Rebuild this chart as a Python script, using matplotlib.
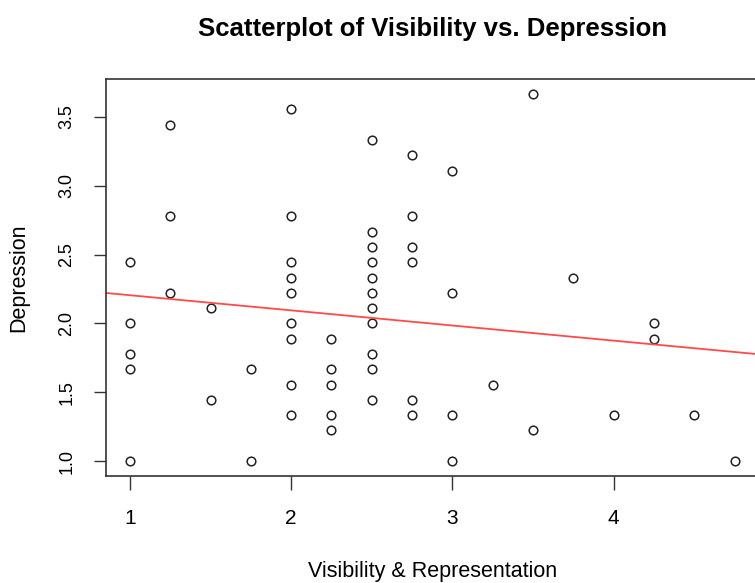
import numpy as np
import matplotlib.pyplot as plt

plt.rcParams['font.family'] = ['Liberation Sans', 'DejaVu Sans']

# visibility score for each respondent, grouped by column
visibility = (
    [1.0] * 5 + [1.25] * 3 + [1.5] * 2 + [1.75] * 2 + [2.0] * 9 + [2.25] * 5
    + [2.5] * 11 + [2.75] * 6 + [3.0] * 4 + [3.25] + [3.5] * 2 + [3.75]
    + [4.0] + [4.25] * 2 + [4.5] + [4.75]
)
depression = [
    22 / 9, 18 / 9, 16 / 9, 15 / 9, 9 / 9,
    31 / 9, 25 / 9, 20 / 9,
    19 / 9, 13 / 9,
    15 / 9, 9 / 9,
    32 / 9, 25 / 9, 22 / 9, 21 / 9, 20 / 9, 18 / 9, 17 / 9, 14 / 9, 12 / 9,
    17 / 9, 15 / 9, 14 / 9, 12 / 9, 11 / 9,
    30 / 9, 24 / 9, 23 / 9, 22 / 9, 21 / 9, 20 / 9, 19 / 9, 18 / 9, 16 / 9, 15 / 9, 13 / 9,
    29 / 9, 25 / 9, 23 / 9, 22 / 9, 13 / 9, 12 / 9,
    28 / 9, 20 / 9, 12 / 9, 9 / 9,
    14 / 9,
    33 / 9, 11 / 9,
    21 / 9,
    12 / 9,
    18 / 9, 17 / 9,
    12 / 9,
    9 / 9,
]

# fitted line as drawn in the original (lm coefficients)
fit_intercept = 2.315
fit_slope = -0.110

x = np.array(visibility)
y = np.array(depression)

fig = plt.figure(figsize=(7.55, 5.83), dpi=100)
ax = fig.add_axes([0.1401, 0.1840, 0.8648, 0.6798])

ax.plot(x, y, 'o', mfc='none', mec='#222222', ms=6.2, mew=1.1)
xx = np.array([0.5, 5.5])
ax.plot(xx, fit_intercept + fit_slope * xx, color='#ff4a4a', lw=1.3)

ax.set_xlim(0.85, 4.9)
ax.set_ylim(0.8933, 3.7733)
ax.set_xticks([1, 2, 3, 4])
ax.set_yticks([1.0, 1.5, 2.0, 2.5, 3.0, 3.5])
ax.set_yticklabels(['1.0', '1.5', '2.0', '2.5', '3.0', '3.5'], rotation=90, va='center')
ax.tick_params(axis='x', length=10, width=1, color='#333333', pad=14, labelsize=15)
ax.tick_params(axis='y', length=9, width=1, color='#333333', pad=13, labelsize=13)
for s in ax.spines.values():
    s.set_color('#333333')
    s.set_linewidth(1.2)

ax.set_xlabel('Visibility & Representation', fontsize=15.5, labelpad=24)
ax.set_ylabel('Depression', fontsize=15.5, labelpad=21)
ax.set_title('Scatterplot of Visibility vs. Depression', fontsize=18.5,
             fontweight='bold', pad=31)

fig.savefig('out.png', dpi=100)
